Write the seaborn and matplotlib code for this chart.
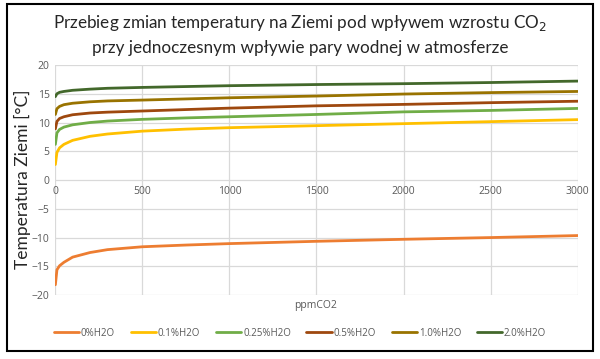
import pandas as pd
import numpy as np
import seaborn as sns
import matplotlib.pyplot as plt
from matplotlib.patches import Rectangle

# ppm CO2 sample points
ppm = [1, 10, 25, 50, 100, 200, 300, 500, 750, 1000, 1500, 2000, 2500, 3000]

# temperature [°C] for each water vapour share
t_0 = [-18.2, -15.6, -14.9, -14.3, -13.4, -12.6, -12.1, -11.6, -11.3, -11.05, -10.65, -10.3, -10.0, -9.65]
t_01 = [2.7, 4.8, 5.6, 6.2, 6.9, 7.6, 8.0, 8.5, 8.85, 9.1, 9.45, 9.8, 10.15, 10.5]
t_025 = [6.2, 8.2, 8.8, 9.2, 9.6, 10.0, 10.25, 10.55, 10.8, 11.0, 11.4, 11.85, 12.1, 12.45]
t_05 = [8.9, 10.2, 10.7, 11.0, 11.35, 11.65, 11.8, 12.0, 12.25, 12.5, 12.9, 13.15, 13.45, 13.7]
t_10 = [11.4, 12.4, 12.8, 13.1, 13.35, 13.6, 13.75, 13.9, 14.1, 14.3, 14.6, 14.95, 15.2, 15.4]
t_20 = [14.5, 15.0, 15.25, 15.4, 15.6, 15.8, 15.95, 16.1, 16.25, 16.4, 16.6, 16.75, 16.95, 17.2]

series = ["0%H2O", "0.1%H2O", "0.25%H2O", "0.5%H2O", "1.0%H2O", "2.0%H2O"]
colors = ["#ED7D31", "#FFC000", "#70AD47", "#9E480E", "#997300", "#43682B"]

rows = []
for name, vals in zip(series, [t_0, t_01, t_025, t_05, t_10, t_20]):
    for x, y in zip(ppm, vals):
        rows.append({"ppmCO2": x, "temp": y, "seria": name})
df = pd.DataFrame(rows)

sns.set_style("white")
plt.rcParams['font.family'] = ['Open Sans', 'DejaVu Sans']

fig = plt.figure(figsize=(6, 3.59), dpi=100)
ax = fig.add_axes([0.092, 0.178, 0.871, 0.641])

sns.lineplot(data=df, x="ppmCO2", y="temp", hue="seria", palette=colors,
             hue_order=series, linewidth=2.0, ax=ax)

ax.set_xlim(0, 3000)
ax.set_ylim(-20, 20)
ax.set_xticks(range(0, 3001, 500))
ax.set_yticks(range(-20, 21, 5))
ax.grid(True, color="#D9D9D9", linewidth=0.9)
for s in ax.spines.values():
    s.set_visible(False)
ax.spines['bottom'].set_position(('data', 0))
ax.tick_params(axis='both', length=0, labelsize=7.5, labelcolor="#595959", pad=4)
ax.set_ylabel("")
ax.set_xlabel("")
fig.text(0.037, 0.50, "Temperatura Ziemi [°C]", rotation=90, ha="center", va="center",
         fontsize=12.5, family=['Lato', 'DejaVu Sans'])
fig.text(0.526, 0.148, "ppmCO2", ha="center", va="center", fontsize=7.5, color="#595959")

fig.text(0.5, 0.935, "Przebieg zmian temperatury na Ziemi pod wpływem wzrostu CO$_2$",
         ha="center", va="center", fontsize=12.3, family=['Lato', 'DejaVu Sans'])
fig.text(0.5, 0.866, "przy jednoczesnym wpływie pary wodnej w atmosferze",
         ha="center", va="center", fontsize=12.3, family=['Lato', 'DejaVu Sans'])

leg = ax.legend(loc="center", bbox_to_anchor=(0.5, 0.072), bbox_transform=fig.transFigure,
                ncol=6, frameon=False, fontsize=7, handlelength=2.6, columnspacing=1.6,
                handletextpad=0.2)
for t in leg.get_texts():
    t.set_color("#595959")

fig.patches.append(Rectangle((0.012, 0.022), 0.977, 0.968, transform=fig.transFigure,
                             fill=False, edgecolor="black", linewidth=1.5))

fig.savefig("out.png", dpi=100)
